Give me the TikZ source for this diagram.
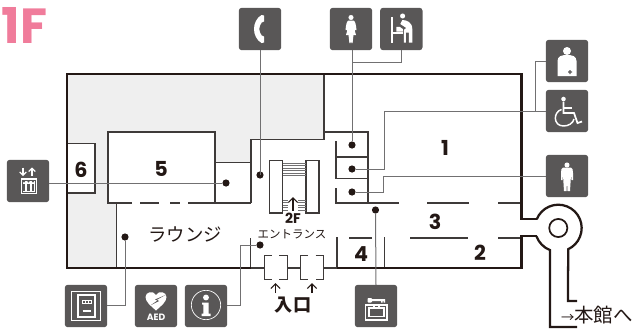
\documentclass[tikz,border=0pt]{standalone}
\usepackage{fontspec}
\usetikzlibrary{arrows.meta}
\setmainfont{Poppins}
\newfontfamily\jpfont{Noto Sans CJK JP}
\definecolor{pinkf}{HTML}{F07C9B}
\definecolor{wallc}{HTML}{231815}
\definecolor{iconc}{HTML}{595757}
\definecolor{linec}{HTML}{3E3A39}
\definecolor{connc}{HTML}{717071}
\definecolor{greyf}{HTML}{EFEFEF}
\tikzset{
  x=.75pt,y=-.75pt,
  wall/.style={draw=wallc,line width=1.7pt,line join=miter},
  thin wall/.style={draw=linec,line width=.85pt},
  conn/.style={draw=connc,line width=.75pt},
  icon/.style={fill=iconc,draw=none,rounded corners=2.2pt,minimum size=31.8pt,inner sep=0pt,outer sep=0pt},
  dotn/.style={circle,fill=wallc,draw=none,minimum size=5.4pt,inner sep=0pt,outer sep=0pt},
  glyph/.style={fill=white,draw=none},
  gline/.style={draw=white,line width=.9pt},
  numl/.style={font=\fontsize{15.5}{16}\selectfont\bfseries,text=wallc,inner sep=0pt},
  jpl/.style={font=\jpfont\fontsize{13.8}{14}\selectfont,text=wallc,inner sep=0pt},
  up arrow/.style={draw=wallc,line width=.9pt,-{Straight Barb[length=3.5pt,width=7pt]}},
}
\begin{document}
\begin{tikzpicture}
\useasboundingbox (0,0) rectangle (633,329);
% floor tint
\fill[greyf] (67,74) -- (324,74) -- (324,139.5) -- (251,139.5) -- (251,162.5) -- (215,162.5) -- (215,132) -- (108,132) -- (108,203) -- (116.5,203) -- (116.5,268) -- (67,268) -- cycle;
\fill[white] (67,143.5) rectangle (95,193);
% title
\node[font=\fontsize{37}{38}\selectfont\bfseries,text=pinkf,inner sep=0pt] (title) at (24.5,25) {1F};
% thin walls
\draw[thin wall] (324,74) -- (324,139.5) -- (251,139.5) -- (251,203);
\draw[thin wall] (215,162.5) -- (251,162.5);
\draw[thin wall] (67,143.5) -- (95,143.5) -- (95,193) -- (67,193);
\draw[thin wall] (132,203) -- (108,203) -- (108,132) -- (215,132) -- (215,203);
\draw[thin wall] (140,203) -- (159,203) (170,203) -- (180,203) (188,203) -- (251,203);
\draw[thin wall] (116.5,203) -- (116.5,268);
\draw[thin wall] (250.5,238) -- (250.5,268) -- (264,268) (287,268) -- (300.5,268) (323,268) -- (337,268);
% doors
\draw[thin wall] (271.5,255.5) -- (264.3,255.5) -- (264.3,279.5) -- (271.5,279.5) (279,255.5) -- (287.3,255.5) -- (287.3,279.5) -- (279,279.5);
\draw[thin wall] (308,255.5) -- (300.7,255.5) -- (300.7,279.5) -- (308,279.5) (315.5,255.5) -- (323.3,255.5) -- (323.3,279.5) -- (315.5,279.5);
% toilets block
\draw[thin wall] (324,132) -- (368,132) -- (368,203);
\draw[thin wall] (336,141) -- (336,164) (336,157) -- (368,157);
\draw[thin wall] (336,160) -- (336,178.5) -- (368,178.5);
\draw[thin wall] (336,188) -- (336,203) -- (399,203) (427,203) -- (469,203) (498,203) -- (521,203);
% south rooms
\draw[thin wall] (337,237) -- (337,268) (384.5,237) -- (384.5,268);
\draw[thin wall] (349,238) -- (372,238) (410,238) -- (468,238) (498,238) -- (521,238);
% stairs
\draw[thin wall] (269.5,160.5) rectangle (282.5,213);
\draw[thin wall] (306,160.5) rectangle (319,213);
\foreach \yy in {163,165.5,168,170.5,173,175.5}{
  \draw[connc,line width=.45pt] (282.5,\yy) -- (306,\yy);
}
\foreach \yy in {200,202.5,205,207.5,210}{
  \draw[connc,line width=.45pt] (282.5,\yy) -- (288,\yy) (298,\yy) -- (306,\yy);
}
% outer walls
\draw[wall] (536.7,219.3) -- (521.5,219.3) -- (521.5,74) -- (67,74) -- (67,268) -- (250.5,268);
\draw[wall] (337,268) -- (521.5,268) -- (521.5,236.3) -- (536.5,236.3);
\draw[wall] (536.7,219.3) arc[start angle=158,end angle=-65,radius=17.5pt] -- (568,301) -- (577,301);
\draw[wall] (536.5,236.3) arc[start angle=200,end angle=249,radius=17.5pt] -- (550,327) -- (577,327);
\node[circle,draw=wallc,line width=1.3pt,minimum size=13.6pt,inner sep=0pt] (hub) at (558.3,228) {};
% arrows
\coordinate (sa1) at (293,211);\coordinate (sa2) at (293,197);
\draw[up arrow] (sa1) -- (sa2);
\coordinate (ea1) at (275.5,293);\coordinate (ea2) at (275.5,283);
\draw[up arrow] (ea1) -- (ea2);
\coordinate (eb1) at (312,293);\coordinate (eb2) at (312,283);
\draw[up arrow] (eb1) -- (eb2);
% labels
\node[numl] (n1) at (445,148) {1};
\node[numl] (n2) at (480,253) {2};
\node[numl] (n3) at (435,222) {3};
\node[numl] (n4) at (361,254) {4};
\node[numl] (n5) at (161,169) {5};
\node[numl] (n6) at (81,170) {6};
\node[font=\fontsize{10.5}{11}\selectfont\bfseries,text=wallc,inner sep=0pt] (twof) at (293,218) {2F};
\node[jpl] (lounge) at (185,235) {ラウンジ};
\node[jpl,font=\jpfont\fontsize{8.6}{9}\selectfont] (ent) at (292,234) {エントランス};
\node[jpl,font=\jpfont\bfseries\fontsize{13.6}{14}\selectfont] (iri) at (293,305) {入口};
\node[jpl,anchor=east,font=\jpfont\fontsize{14.6}{15}\selectfont] (annex) at (633,315) {{\fontsize{10}{10}\selectfont →}本館へ};
% icons
\node[icon] (phone) at (260,29) {};
\node[icon] (woman) at (351,29) {};
\node[icon] (baby) at (401.3,29) {};
\node[icon] (nurse) at (567,61) {};
\node[icon] (wheel) at (567,111) {};
\node[icon] (man) at (567,176) {};
\node[icon] (lift) at (28,181) {};
\node[icon] (atm) at (86,306) {};
\node[icon] (aed) at (156,306) {};
\node[icon] (info) at (206,306) {};
\node[icon] (lock) at (376,306) {};
% dots
\node[dotn] (dphone) at (260,175) {};
\node[dotn] (dwoman) at (352,145) {};
\node[dotn] (dwheel) at (352,169) {};
\node[dotn] (dman) at (352,192) {};
\node[dotn] (dlift) at (226,183) {};
\node[dotn] (datm) at (125,237) {};
\node[dotn] (dinfo) at (260,245) {};
\node[dotn] (dlock) at (375.5,210) {};
% connectors
\coordinate (bwoman) at (352,62);
\coordinate (bnurse) at (535,111);
\coordinate (cw) at (384,111);
\coordinate (cm) at (383,176);
\coordinate (ci) at (240,245);
\coordinate (cii) at (240,305);
\coordinate (ca) at (125,305);
\draw[conn] (phone.south) -- (260,175);
\draw[conn] (352,50) -- (dwoman);
\draw[conn] (baby.south) |- (bwoman);
\draw[conn] (nurse.west) -| (bnurse);
\draw[conn] (wheel.west) -- (cw) |- (dwheel);
\draw[conn] (man.west) -- (cm) |- (dman);
\draw[conn] (49,183) -- (dlift);
\draw[conn] (dinfo) -- (ci) -- (cii) -- (227,305);
\draw[conn] (datm) -- (ca) -- (107,305);
\draw[conn] (dlock) -- (lock.north);
% phone glyph
\begin{scope}[shift={(phone.center)}]
\fill[glyph] (1.5,-14) -- (4,-13.5) -- (4,-7.5) -- (1.7,-6.5) .. controls (-1.5,-2) and (-1.5,2) .. (1.7,6.5) -- (4,7.5) -- (4,13.5) -- (1.5,14) .. controls (-8.5,8) and (-8.5,-8) .. (1.5,-14) -- cycle;
\end{scope}
% woman glyph
\begin{scope}[shift={(woman.center)}]
\fill[glyph] (0,-11.5) circle[radius=1.9pt];
\fill[glyph] (-2.5,-8.5) -- (2.5,-8.5) .. controls (4,-8) and (5,-5) .. (5.5,1) -- (3.8,1) -- (2.8,-2) -- (5,6) -- (2.5,6) -- (1.6,14) -- (.3,14) -- (0,7) -- (-.3,14) -- (-1.6,14) -- (-2.5,6) -- (-5,6) -- (-2.8,-2) -- (-3.8,1) -- (-5.5,1) .. controls (-5,-5) and (-4,-8) .. (-2.5,-8.5) -- cycle;
\end{scope}
% changing-table glyph
\begin{scope}[shift={(baby.center)}]
\fill[glyph] (-10.5,-12.5) rectangle (-8.5,13.5);
\fill[glyph] (-8.5,3) rectangle (2,4.5);
\fill[glyph] (-5,-2) .. controls (-3,-3) and (0,-2) .. (1.5,0) -- (1.5,2.5) -- (-5,2.5) -- cycle;
\fill[glyph] (1.3,-13) circle[radius=1.9pt];
\fill[glyph] (1,-9) .. controls (5,-9) and (11,-7) .. (11,0) -- (11,13.5) -- (7.5,13.5) -- (7.5,3.5) -- (4.5,3.5) -- (4.5,13.5) -- (2.5,13.5) -- (2.5,1) -- (5,-1) -- (-1,-5) -- cycle;
\end{scope}
% nurse glyph
\begin{scope}[shift={(nurse.center)}]
\fill[glyph] (0,-10) circle[radius=3pt];
\fill[glyph] (-9.5,15) -- (-9.5,0) .. controls (-9.5,-5) and (-5,-6) .. (0,-6) .. controls (5,-6) and (9.5,-5) .. (9.5,0) -- (9.5,15) -- cycle;
\fill[iconc] (2.3,9) rectangle (3.7,13) (1,10.3) rectangle (5,11.7);
\end{scope}
% wheelchair glyph
\begin{scope}[shift={(wheel.center)}]
\fill[glyph] (-3.5,-12) circle[radius=1.7pt];
\draw[gline,line width=1.3pt] (-3.5,-9.5) -- (-3.5,2) -- (7,2) -- (10.5,12) -- (15,10.5);
\draw[gline] (-3.5,-3) -- (5,-3);
\draw[gline,line width=1.1pt] (-5.5,-1.5) .. controls (-14,1) and (-14,15) .. (-3.5,15) .. controls (2,15) and (6,12) .. (7,8);
\end{scope}
% man glyph
\begin{scope}[shift={(man.center)}]
\fill[glyph] (0,-11) circle[radius=1.9pt];
\fill[glyph] (-4,-8.5) -- (4,-8.5) .. controls (5.5,-8) and (6,-6) .. (6,-3) -- (6,4) -- (4.5,4) -- (4,-2) -- (3.7,4) -- (3,15) -- (.5,15) -- (0,5) -- (-.5,15) -- (-3,15) -- (-3.7,4) -- (-4,-2) -- (-4.5,4) -- (-6,4) -- (-6,-3) .. controls (-6,-6) and (-5.5,-8) .. (-4,-8.5) -- cycle;
\end{scope}
% lift glyph
\begin{scope}[shift={(lift.center)}]
\draw[gline,-{Straight Barb[length=2.4pt,width=5pt]}] (-5,-13.5) -- (-5,-5);
\draw[gline,-{Straight Barb[length=2.4pt,width=5pt]}] (4,-5) -- (4,-13.5);
\fill[glyph] (-7.5,-3) rectangle (8.5,13);
\foreach \xx in {-4,0.5,5}{
  \fill[iconc] (\xx,0.5) circle[radius=.8pt];
  \fill[iconc] (\xx-1.2,2.5) rectangle (\xx+1.2,10);
}
\draw[iconc,line width=.4pt] (-6,-.8) rectangle (7,11.5);
\end{scope}
% atm glyph
\begin{scope}[shift={(atm.center)}]
\draw[gline,line width=.5pt] (-14.5,-15) rectangle (14,14);
\draw[gline,line width=.85pt] (-8,-11) rectangle (9,11);
\draw[gline,line width=.7pt] (-4,-6) rectangle (5,-2.5);
\draw[gline,line width=.4pt] (-1,-6) -- (-1,-2.5) (2,-6) -- (2,-2.5);
\draw[gline,line width=.9pt] (-3.5,5) -- (4.5,5);
\end{scope}
% aed glyph
\begin{scope}[shift={(aed.center)}]
\fill[glyph] (0,4.5) .. controls (-5,0) and (-10.5,-4) .. (-10.5,-9) .. controls (-10.5,-14) and (-3,-16) .. (0,-11) .. controls (3,-16) and (10.5,-14) .. (10.5,-9) .. controls (10.5,-4) and (5,0) .. (0,4.5) -- cycle;
\fill[iconc] (9.5,-11) -- (-1,-6.5) -- (1.5,-5.5) -- (-5,-1) -- (3,-5) -- (.8,-6.2) -- cycle;
\node[font=\fontsize{6.9}{7}\selectfont\bfseries,text=white,inner sep=0pt] (aedt) at (0,11.5) {AED};
\end{scope}
% info glyph
\begin{scope}[shift={(info.center)}]
\draw[gline,line width=.5pt] (0,-1) circle[radius=11pt];
\fill[glyph] (0,-8.5) circle[radius=2.2pt];
\fill[glyph] (-4,-3.5) -- (2.6,-3.5) -- (2.6,7.5) -- (4.5,7.5) -- (4.5,10) -- (-4.5,10) -- (-4.5,7.5) -- (-2.6,7.5) -- (-2.6,-1.5) -- (-4,-1.5) -- cycle;
\end{scope}
% key glyph
\begin{scope}[shift={(lock.center)}]
\fill[glyph,rounded corners=.6pt] (-8.5,-8) rectangle (-4,-3.5);
\fill[glyph] (-4,-6.8) rectangle (9,-4.8) (5,-5) rectangle (6.5,-3.5) (7.5,-5) rectangle (9,-3.5);
\draw[gline,line width=1pt] (-10.5,-1) rectangle (11,14);
\draw[gline,line width=.8pt] (-7,2) rectangle (8,10.5);
\draw[gline,line width=.8pt] (-2,2) -- (-2,-.5) (3,2) -- (3,-.5);
\end{scope}
\end{tikzpicture}
\end{document}
